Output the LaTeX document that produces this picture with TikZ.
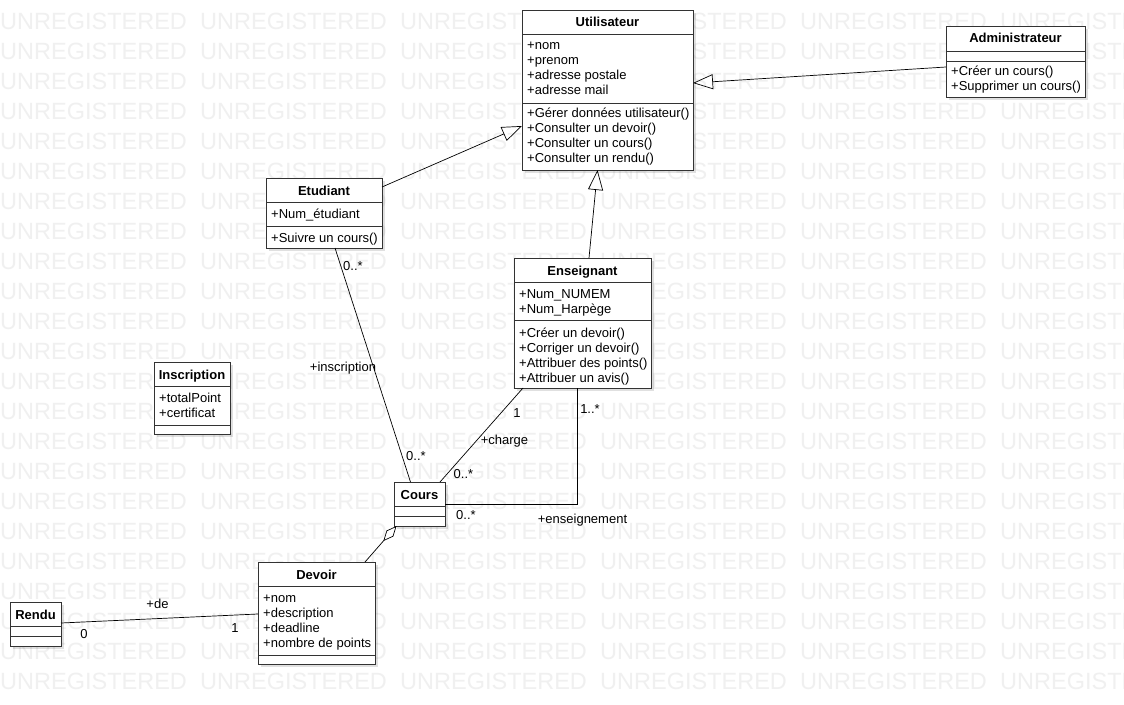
\documentclass[tikz,border=0pt]{standalone}
\usepackage{fontspec}
\setmainfont{Liberation Sans}
\usetikzlibrary{arrows.meta,shadows}
\begin{document}
\begin{tikzpicture}[x=1pt,y=-1pt,
  cls/.style={draw=black!80,line width=0.9pt,fill=white,anchor=north west,inner sep=0pt,outer sep=0pt,
     drop shadow={shadow xshift=3pt,shadow yshift=-3pt,fill=black,opacity=0.12}},
  sep/.style={draw=black!80,line width=0.9pt},
  ttl/.style={font=\fontsize{13}{15}\selectfont\bfseries,anchor=base,inner sep=0pt},
  txt/.style={font=\fontsize{13}{15}\selectfont,anchor=base west,inner sep=0pt},
  lbl/.style={font=\fontsize{13}{15}\selectfont,anchor=base,inner sep=0pt},
  conn/.style={draw=black,line width=0.7pt},
  gen/.style={conn,-{Triangle[open,length=20pt,width=15pt]}},
  agg/.style={conn,{Diamond[open,length=20pt,width=9pt]}-},
  wm/.style={font=\fontsize{23.5}{28}\selectfont,text=black!6,anchor=base west,inner sep=0pt}
]
\useasboundingbox (0,0) rectangle (1124,704);
\fill[white] (0,0) rectangle (1124,704);
\begin{scope}
\clip (0,0) rectangle (1124,704);
\foreach \r in {0,...,22}{\foreach \c in {0,...,5}{
  \node[wm,name=wm\r-\c] at (\c*200, 29+\r*30) {UNREGISTERED};}}
\end{scope}

% Utilisateur
\node[cls,minimum width=171pt,minimum height=160pt] (util) at (522,10) {};
\draw[sep] (522,34.5) -- (693,34.5);
\draw[sep] (522,103) -- (693,103);
\node[ttl] (utilT) at (607.5,26.5) {Utilisateur};
\foreach \t [count=\i] in {+nom,+prenom,+adresse postale,+adresse mail}
  \node[txt] (utilA\i) at (527,34.5+15*\i) {\t};
\foreach \t [count=\i] in {+Gérer données utilisateur(),+Consulter un devoir(),+Consulter un cours(),+Consulter un rendu()}
  \node[txt] (utilM\i) at (527,102.5+15*\i) {\t};

% Administrateur
\node[cls,minimum width=139pt,minimum height=71pt] (admin) at (946,26) {};
\draw[sep] (946,51) -- (1085,51);
\draw[sep] (946,61) -- (1085,61);
\node[ttl] (adminT) at (1015.5,42.5) {Administrateur};
\foreach \t [count=\i] in {+Créer un cours(),+Supprimer un cours()}
  \node[txt] (adminM\i) at (951,60.5+15*\i) {\t};

% Etudiant
\node[cls,minimum width=116pt,minimum height=70pt] (etud) at (266,178) {};
\draw[sep] (266,202.5) -- (382,202.5);
\draw[sep] (266,226.5) -- (382,226.5);
\node[ttl] (etudT) at (324,195) {Etudiant};
\node[txt] (etudA1) at (271,218) {+Num\_étudiant};
\node[txt] (etudM1) at (271,242) {+Suivre un cours()};

% Enseignant
\node[cls,minimum width=137pt,minimum height=130pt] (ens) at (514,258) {};
\draw[sep] (514,282.5) -- (651,282.5);
\draw[sep] (514,320.5) -- (651,320.5);
\node[ttl] (ensT) at (582.5,275) {Enseignant};
\foreach \t [count=\i] in {+Num\_NUMEM,+Num\_Harpège}
  \node[txt] (ensA\i) at (519,283+15*\i) {\t};
\foreach \t [count=\i] in {+Créer un devoir(),+Corriger un devoir(),+Attribuer des points(),+Attribuer un avis()}
  \node[txt] (ensM\i) at (519,322+15*\i) {\t};

% Inscription
\node[cls,minimum width=76pt,minimum height=72pt] (insc) at (154,362) {};
\draw[sep] (154,386.5) -- (230,386.5);
\draw[sep] (154,425) -- (230,425);
\node[ttl] (inscT) at (192,379) {Inscription};
\foreach \t [count=\i] in {+totalPoint,+certificat}
  \node[txt] (inscA\i) at (159,387+15*\i) {\t};

% Cours
\node[cls,minimum width=51pt,minimum height=44pt] (cours) at (394,482) {};
\draw[sep] (394,506.5) -- (445,506.5);
\draw[sep] (394,516) -- (445,516);
\node[ttl] (coursT) at (419.5,499) {Cours};

% Devoir
\node[cls,minimum width=117pt,minimum height=102pt] (devoir) at (258,562) {};
\draw[sep] (258,586.5) -- (375,586.5);
\draw[sep] (258,655) -- (375,655);
\node[ttl] (devoirT) at (316.5,579) {Devoir};
\foreach \t [count=\i] in {+nom,+description,+deadline,+nombre de points}
  \node[txt] (devoirA\i) at (263,587+15*\i) {\t};

% Rendu
\node[cls,minimum width=51pt,minimum height=44pt] (rendu) at (10,602) {};
\draw[sep] (10,626.5) -- (61,626.5);
\draw[sep] (10,636.5) -- (61,636.5);
\node[ttl] (renduT) at (35.5,619.5) {Rendu};

% Generalisations
\draw[gen] ([yshift=-41pt]admin.north west) -- ([yshift=-73pt]util.north east);
\draw[gen] ([yshift=-9pt]etud.north east) -- ([yshift=-116pt]util.north west);
\draw[gen] ([xshift=75pt]ens.north west) -- ([xshift=75.5pt]util.south west);

% Associations
\draw[conn] ([xshift=69pt]etud.south west) -- ([xshift=16.5pt]cours.north west);
\draw[conn] ([xshift=9pt]ens.south west) -- ([xshift=46pt]cours.north west);
\draw[conn] ([xshift=63.5pt]ens.south west) |- ([yshift=-22pt]cours.north east);
\draw[agg] ([xshift=2.5pt]cours.south west) -- ([xshift=107pt]devoir.north west);
\draw[conn] ([yshift=-21pt]rendu.north east) -- ([yshift=-52pt]devoir.north west);

% Labels
\node[lbl] (l1) at (353,270) {0..*};
\node[lbl] (l2) at (343,371) {+inscription};
\node[lbl] (l3) at (416,460.5) {0..*};
\node[lbl] (l4) at (517,417) {1};
\node[lbl] (l5) at (504.5,444.5) {+charge};
\node[lbl] (l6) at (463.5,478) {0..*};
\node[lbl] (l7) at (590,413.5) {1..*};
\node[lbl] (l8) at (466,519.5) {0..*};
\node[lbl] (l9) at (582.5,523) {+enseignement};
\node[lbl] (l10) at (157.5,608) {+de};
\node[lbl] (l11) at (84,638) {0};
\node[lbl] (l12) at (235,632) {1};
\end{tikzpicture}
\end{document}
